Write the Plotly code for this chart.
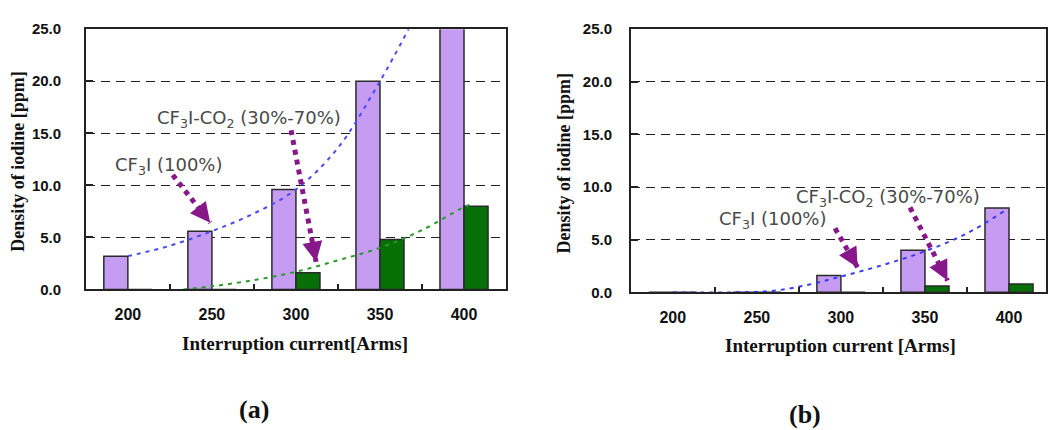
import plotly.graph_objects as go

# ---- data -------------------------------------------------------------
currents = [200, 250, 300, 350, 400]

# panel (a)
a_cf3i = [3.2, 5.6, 9.6, 20.0, 27.0]
a_mix = [0.0, 0.0, 1.6, 4.8, 8.0]
a_trend_cf3i_x = [200, 225, 250, 275, 300, 325, 350, 367]
a_trend_cf3i_y = [3.2, 4.2, 5.6, 7.3, 9.6, 13.6, 20.0, 25.0]
a_trend_mix_x = [233, 250, 275, 300, 325, 350, 375, 400, 405]
a_trend_mix_y = [0.0, 0.3, 0.9, 1.7, 2.8, 4.0, 5.7, 7.9, 8.2]

# panel (b)
b_cf3i = [0.0, 0.0, 1.6, 4.0, 8.0]
b_mix = [0.0, 0.0, 0.0, 0.6, 0.8]
b_trend_cf3i_x = [200, 238, 260, 280, 300, 325, 350, 375, 397]
b_trend_cf3i_y = [0.0, 0.0, 0.15, 0.7, 1.5, 2.6, 3.9, 5.6, 7.7]

y_ticks = [0, 5, 10, 15, 20, 25]
y_tick_text = ["0.0", "5.0", "10.0", "15.0", "20.0", "25.0"]
minor_x = [225, 275, 325, 375]

# ---- styling ----------------------------------------------------------
W, H = 1048, 430
PURPLE = "#c59cf2"
GREEN = "#067006"
EDGE = "#2a2a2a"
ARROW = "#86188a"
LABEL = "#4a4a4a"
BAR_W = 14.3


def px_x(p):
    return p / W


def px_y(p):
    return 1 - p / H


fig = go.Figure()


def add_panel(xa, ya, cf3i, mix, trends):
    xn = "x" if xa == 1 else f"x{xa}"
    yn = "y" if ya == 1 else f"y{ya}"
    fig.add_trace(go.Bar(
        x=currents, y=cf3i, width=BAR_W, offset=-BAR_W,
        marker=dict(color=PURPLE, line=dict(color=EDGE, width=1.5)),
        xaxis=xn, yaxis=yn, showlegend=False))
    fig.add_trace(go.Bar(
        x=currents, y=mix, width=BAR_W, offset=0,
        marker=dict(color=GREEN, line=dict(color=EDGE, width=1.5)),
        xaxis=xn, yaxis=yn, showlegend=False))
    for tx, ty, col in trends:
        fig.add_trace(go.Scatter(
            x=tx, y=ty, mode="lines",
            line=dict(color=col, width=2, dash="4px,5px", shape="spline"),
            xaxis=xn, yaxis=yn, showlegend=False, cliponaxis=True))


add_panel(1, 1, a_cf3i, a_mix,
          [(a_trend_cf3i_x, a_trend_cf3i_y, "#4a4af5"),
           (a_trend_mix_x, a_trend_mix_y, "#2a9a2a")])
add_panel(2, 2, b_cf3i, b_mix,
          [(b_trend_cf3i_x, b_trend_cf3i_y, "#3a3af5")])

xtickfont = dict(family="Liberation Sans, Arial", size=16, color="#111", weight="bold")
ytickfont = dict(family="Liberation Sans, Arial", size=15, color="#111", weight="bold")


def xaxis_cfg(domain, rng, anchor):
    return dict(
        domain=domain, range=rng, anchor=anchor,
        tickmode="array", tickvals=currents, ticks="",
        ticklabelstandoff=10, tickfont=xtickfont,
        showline=True, linecolor="#222", linewidth=1.5, mirror=True,
        showgrid=False, zeroline=False,
        minor=dict(tickvals=minor_x, ticks="inside", ticklen=6,
                   tickcolor="#222", tickwidth=1.5, showgrid=False),
    )


def yaxis_cfg(domain, anchor, standoff):
    return dict(
        domain=domain, range=[0, 25], anchor=anchor,
        tickmode="array", tickvals=y_ticks, ticktext=y_tick_text,
        ticks="inside", ticklen=7, tickcolor="#222", tickwidth=1.5,
        ticklabelstandoff=standoff, tickfont=ytickfont,
        showline=True, linecolor="#222", linewidth=1.5, mirror=True,
        showgrid=True, gridcolor="#222", gridwidth=1.3, griddash="9px,6px",
        zeroline=False,
    )


fig.update_layout(
    width=W, height=H,
    margin=dict(l=0, r=0, t=0, b=0),
    paper_bgcolor="white", plot_bgcolor="white",
    barmode="overlay",
    xaxis=xaxis_cfg([px_x(86), px_x(507)], [175, 425], "y"),
    yaxis=yaxis_cfg([px_y(292), px_y(21)], "x", 20),
    xaxis2=xaxis_cfg([px_x(632), 1.0], [175, 422], "y2"),
    yaxis2=yaxis_cfg([px_y(295), px_y(21)], "x2", 14),
)

annotations = []
serif_bold = dict(family="Liberation Serif, Times New Roman", color="#111", weight="bold")


def paper_text(text, cx, cy, size, angle=0):
    return dict(text=text, x=px_x(cx), y=px_y(cy), xref="paper", yref="paper",
                xanchor="center", yanchor="middle", textangle=angle,
                showarrow=False, font=dict(size=size, **serif_bold))


# axis titles and panel captions
annotations += [
    paper_text("Density of iodine [ppm]", 18, 158, 18, -90),
    paper_text("Interruption current[Arms]", 296, 348, 19),
    paper_text("Density of iodine [ppm]", 565, 160, 18, -90),
    paper_text("Interruption current [Arms]", 842, 350, 19),
    paper_text("(a)", 254, 417, 26),
    paper_text("(b)", 807, 422, 26),
]

label_font = dict(family="DejaVu Sans", size=18, color=LABEL)
lbl_100 = "CF<sub>3</sub>I (100%)"
lbl_mix = "CF<sub>3</sub>I-CO<sub>2</sub> (30%-70%)"

# series labels
for text, x, y, xr, yr in [
    (lbl_100, 224.3, 11.9, "x", "y"),
    (lbl_mix, 271.8, 16.4, "x", "y"),
    (lbl_mix, 328.2, 9.0, "x2", "y2"),
    (lbl_100, 259.3, 6.9, "x2", "y2"),
]:
    annotations.append(dict(text=text, x=x, y=y, xref=xr, yref=yr,
                            xanchor="center", yanchor="middle",
                            showarrow=False, font=label_font))

# pointer arrows: dotted shaft + arrowhead
arrows = [
    ("x", "y", 226.7, 11.0, 249.0, 6.4),
    ("x", "y", 297.1, 15.3, 312.0, 2.65),
    ("x2", "y2", 341.1, 8.06, 363.4, 1.12),
    ("x2", "y2", 296.5, 6.08, 310.0, 2.34),
]
shapes = []
for xr, yr, x0, y0, x1, y1 in arrows:
    shapes.append(dict(type="line", xref=xr, yref=yr, x0=x0, y0=y0, x1=x1, y1=y1,
                       line=dict(color=ARROW, width=5, dash="dot")))
    annotations.append(dict(x=x1, y=y1, ax=x0 + (x1 - x0) * 0.8, ay=y0 + (y1 - y0) * 0.8,
                            xref=xr, yref=yr, axref=xr, ayref=yr, text="",
                            showarrow=True, arrowhead=2, arrowsize=1.0, arrowwidth=4,
                            arrowcolor=ARROW, standoff=0))

fig.update_layout(annotations=annotations, shapes=shapes)

fig.write_html("out.html")
